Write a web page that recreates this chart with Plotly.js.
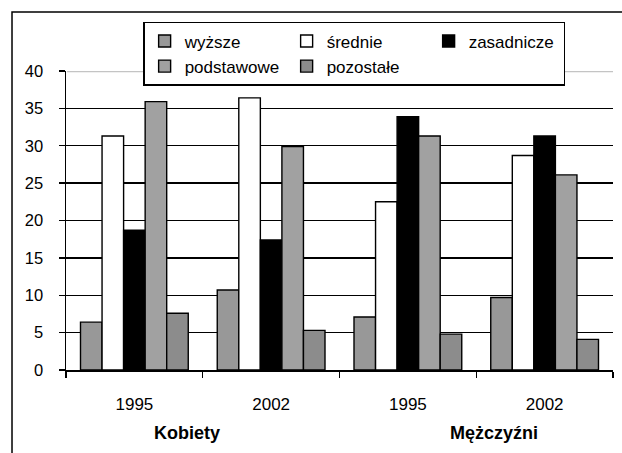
<!DOCTYPE html>
<html>
<head>
<meta charset="utf-8">
<script src="https://cdn.plot.ly/plotly-3.0.1.min.js"></script>
<style>
html,body{margin:0;padding:0;background:#fff;}
#chart{width:622px;height:453px;}
</style>
</head>
<body>
<div id="chart"></div>
<script>
const categories = ['K1995', 'K2002', 'M1995', 'M2002'];
const tickLabels = ['1995', '2002', '1995', '2002'];
const groupLabels = ['Kobiety', 'Mężczyźni'];
const seriesNames = ['wyższe', 'średnie', 'zasadnicze', 'podstawowe', 'pozostałe'];
const wyzsze = [6.4, 10.7, 7.1, 9.7];
const srednie = [31.3, 36.4, 22.5, 28.7];
const zasadnicze = [18.7, 17.4, 33.9, 31.3];
const podstawowe = [35.9, 29.9, 31.3, 26.1];
const pozostale = [7.6, 5.3, 4.8, 4.1];
const yTicks = [0, 5, 10, 15, 20, 25, 30, 35, 40];

const colors = ['#989898', '#ffffff', '#000000', '#a1a1a1', '#8c8c8c'];
const legendWidths = [97, 97, 90, 97, 97];
const values = [wyzsze, srednie, zasadnicze, podstawowe, pozostale];

const FONT = 'Liberation Sans, Arial, sans-serif';

const traces = values.map((v, i) => ({
  type: 'bar',
  name: seriesNames[i],
  x: categories,
  y: v,
  legendwidth: legendWidths[i],
  marker: {color: colors[i], line: {color: '#000', width: 1.4}},
  hoverinfo: 'skip'
}));

const layout = {
  width: 622,
  height: 453,
  margin: {l: 66, r: 9, t: 71, b: 83},
  paper_bgcolor: '#fff',
  plot_bgcolor: '#fff',
  font: {family: FONT, size: 17, color: '#000'},
  barmode: 'group',
  bargap: 0.212,
  bargroupgap: 0,
  showlegend: true,
  legend: {
    orientation: 'h',
    x: 0.141, xanchor: 'left',
    y: 1.164, yanchor: 'top',
    bgcolor: '#fff',
    bordercolor: '#000',
    borderwidth: 1.5,
    entrywidth: 97,
    entrywidthmode: 'pixels',
    itemwidth: 30,
    font: {family: FONT, size: 17, color: '#000'}
  },
  xaxis: {
    type: 'category',
    tickmode: 'array',
    tickvals: categories,
    ticktext: tickLabels,
    tickson: 'boundaries',
    ticks: 'outside',
    ticklen: 6,
    tickwidth: 1.3,
    tickcolor: '#000',
    ticklabelstandoff: 18,
    showline: true,
    linecolor: '#000',
    linewidth: 1.5,
    showgrid: false,
    zeroline: false,
    tickfont: {family: FONT, size: 17, color: '#000'}
  },
  yaxis: {
    range: [0, 40],
    tickmode: 'array',
    tickvals: yTicks,
    ticktext: yTicks.map(String),
    ticks: 'outside',
    ticklen: 6,
    tickwidth: 1.3,
    tickcolor: '#000',
    ticklabelstandoff: 12,
    showline: true,
    linecolor: '#000',
    linewidth: 1.5,
    showgrid: true,
    gridcolor: '#000',
    gridwidth: 1.3,
    zeroline: false,
    tickfont: {family: FONT, size: 16.5, color: '#000'}
  },
  shapes: [
    {type: 'line', layer: 'below', xref: 'paper', yref: 'y', x0: 0.002, x1: 1, y0: 40, y1: 40,
     line: {color: '#c4c4c4', width: 2.5}},
    {type: 'rect', xref: 'paper', yref: 'paper', x0: -0.0987, x1: 1.2, y0: -0.6, y1: 1.197,
     line: {color: '#000', width: 1.5}, fillcolor: 'rgba(0,0,0,0)'}
  ],
  annotations: [
    {text: '<b>' + groupLabels[0] + '</b>', xref: 'paper', yref: 'paper', x: 0.2207, y: -0.211,
     xanchor: 'center', yanchor: 'middle', showarrow: false, font: {family: FONT, size: 18, color: '#000'}},
    {text: '<b>' + groupLabels[1] + '</b>', xref: 'paper', yref: 'paper', x: 0.783, y: -0.211,
     xanchor: 'center', yanchor: 'middle', showarrow: false, font: {family: FONT, size: 18, color: '#000'}}
  ]
};

Plotly.newPlot('chart', traces, layout, {staticPlot: true, displayModeBar: false});
</script>
</body>
</html>
